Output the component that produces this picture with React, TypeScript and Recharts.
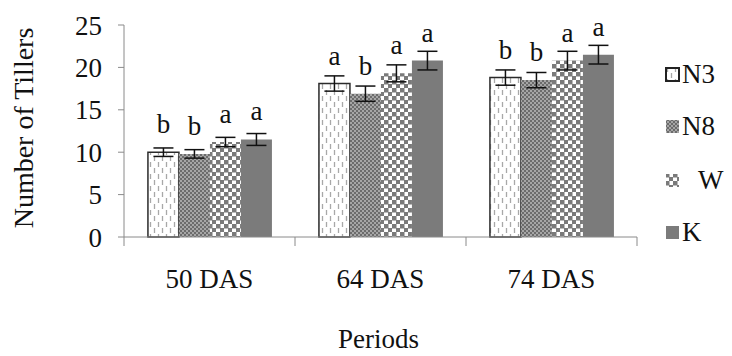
import React from "react";
import { BarChart, Bar, XAxis, YAxis, ErrorBar, LabelList, Label } from "recharts";

const periods = ["50 DAS", "64 DAS", "74 DAS"];
const n3 = [10.0, 18.1, 18.8];
const n8 = [9.8, 16.9, 18.5];
const w = [11.2, 19.3, 20.8];
const k = [11.5, 20.8, 21.5];
const n3Err = [0.5, 0.9, 0.9];
const n8Err = [0.5, 0.9, 0.9];
const wErr = [0.55, 1.0, 1.1];
const kErr = [0.7, 1.1, 1.1];
const n3Letters = ["b", "a", "b"];
const n8Letters = ["b", "b", "b"];
const wLetters = ["a", "a", "a"];
const kLetters = ["a", "a", "a"];
const yTicks = [0, 5, 10, 15, 20, 25];

const data = periods.map((period, i) => ({
  period,
  N3: n3[i],
  N3e: n3Err[i],
  N3l: n3Letters[i],
  N8: n8[i],
  N8e: n8Err[i],
  N8l: n8Letters[i],
  W: w[i],
  We: wErr[i],
  Wl: wLetters[i],
  K: k[i],
  Ke: kErr[i],
  Kl: kLetters[i],
}));

const FONT = "Liberation Serif, serif";
const TEXT = "#111";
const AXIS = "#8a8a8a";

function PeriodTick({ x, y, payload, index, width, visibleTicksCount }: any) {
  const half = payload?.offset || (width && visibleTicksCount ? width / visibleTicksCount / 2 : 85);
  return (
    <g>
      <line x1={x + half} y1={y} x2={x + half} y2={y + 9} stroke={AXIS} strokeWidth={1} />
      {index === 0 && <line x1={x - half} y1={y} x2={x - half} y2={y + 9} stroke={AXIS} strokeWidth={1} />}
      <text x={x} y={y + 51} textAnchor="middle" fontSize={27} fill={TEXT} fontFamily={FONT}>
        {payload.value}
      </text>
    </g>
  );
}

const legendItems = [
  { name: "N3", fill: "url(#pN3)", stroke: "#222", top: 74, textLeft: 682 },
  { name: "N8", fill: "url(#pN8)", stroke: "none", top: 126, textLeft: 682 },
  { name: "W", fill: "url(#pW)", stroke: "none", top: 180, textLeft: 698 },
  { name: "K", fill: "#7b7b7b", stroke: "none", top: 232, textLeft: 682 },
];

const labelStyle = { fontSize: 27, fill: TEXT, fontFamily: FONT };

export default function App() {
  return (
    <div style={{ position: "absolute", left: 0, top: 0, width: 732, height: 356, background: "#fff" }}>
      <BarChart
        width={732}
        height={356}
        data={data}
        margin={{ top: 25, right: 95, left: 0, bottom: 0 }}
        barCategoryGap="14%"
        barGap={0}
      >
        <defs>
          <pattern id="pN3" width="8" height="12" patternUnits="userSpaceOnUse">
            <rect width="8" height="12" fill="#fff" />
            <line x1="2.5" y1="0" x2="2.5" y2="5" stroke="#a8a8a8" strokeWidth="1.3" />
            <line x1="6.5" y1="6" x2="6.5" y2="11" stroke="#a8a8a8" strokeWidth="1.3" />
          </pattern>
          <pattern id="pN8" width="4" height="4" patternUnits="userSpaceOnUse">
            <rect width="4" height="4" fill="#6c6c6c" />
            <rect x="0" y="0" width="2" height="2" fill="#a6a6a6" />
            <rect x="2" y="2" width="2" height="2" fill="#a6a6a6" />
          </pattern>
          <pattern id="pW" width="8" height="8" patternUnits="userSpaceOnUse">
            <rect width="8" height="8" fill="#fff" />
            <rect x="0" y="0" width="4.5" height="4.5" fill="#7a7a7a" />
            <rect x="4" y="4" width="4.5" height="4.5" fill="#7a7a7a" />
          </pattern>
        </defs>
        <XAxis
          dataKey="period"
          height={119}
          stroke={AXIS}
          tickLine={false}
          tickSize={0}
          tickMargin={0}
          tick={<PeriodTick />}
          interval={0}
        >
          <Label
            content={({ viewBox }: any) => (
              <text
                x={viewBox.x + viewBox.width / 2 - 2}
                y={348}
                textAnchor="middle"
                fontSize={27}
                fill={TEXT}
                fontFamily={FONT}
              >
                Periods
              </text>
            )}
          />
        </XAxis>
        <YAxis
          width={124}
          domain={[0, 25]}
          ticks={yTicks}
          interval={0}
          stroke={AXIS}
          tickSize={6}
          tickMargin={16}
          tick={{ fontSize: 27, fill: TEXT, fontFamily: FONT }}
        >
          <Label
            content={({ viewBox }: any) => {
              const cx = 33;
              const cy = viewBox.y + viewBox.height / 2 - 3;
              return (
                <text
                  x={cx}
                  y={cy}
                  transform={`rotate(-90, ${cx}, ${cy})`}
                  textAnchor="middle"
                  fontSize={28}
                  fill={TEXT}
                  fontFamily={FONT}
                >
                  Number of Tillers
                </text>
              );
            }}
          />
        </YAxis>
        <Bar dataKey="N3" fill="url(#pN3)" stroke="#2a2a2a" strokeWidth={1.5} isAnimationActive={false}>
          <ErrorBar dataKey="N3e" width={10} stroke="#111" strokeWidth={1.5} direction="y" />
          <LabelList dataKey="N3l" position="top" offset={19} style={labelStyle} />
        </Bar>
        <Bar dataKey="N8" fill="url(#pN8)" isAnimationActive={false}>
          <ErrorBar dataKey="N8e" width={10} stroke="#111" strokeWidth={1.5} direction="y" />
          <LabelList dataKey="N8l" position="top" offset={19} style={labelStyle} />
        </Bar>
        <Bar dataKey="W" fill="url(#pW)" isAnimationActive={false}>
          <ErrorBar dataKey="We" width={10} stroke="#111" strokeWidth={1.5} direction="y" />
          <LabelList dataKey="Wl" position="top" offset={19} style={labelStyle} />
        </Bar>
        <Bar dataKey="K" fill="#7b7b7b" isAnimationActive={false}>
          <ErrorBar dataKey="Ke" width={10} stroke="#111" strokeWidth={1.5} direction="y" />
          <LabelList dataKey="Kl" position="top" offset={19} style={labelStyle} />
        </Bar>
      </BarChart>
      {legendItems.map((item) => (
        <React.Fragment key={item.name}>
          <svg
            width={15}
            height={15}
            style={{ position: "absolute", left: 665, top: item.top - 7 }}
          >
            <rect
              x={1}
              y={1}
              width={13}
              height={13}
              fill={item.fill}
              stroke={item.stroke}
              strokeWidth={item.stroke === "none" ? 0 : 2}
            />
          </svg>
          <div
            style={{
              position: "absolute",
              left: item.textLeft,
              top: item.top - 16,
              fontFamily: FONT,
              fontSize: 27,
              lineHeight: "32px",
              color: TEXT,
            }}
          >
            {item.name}
          </div>
        </React.Fragment>
      ))}
    </div>
  );
}
